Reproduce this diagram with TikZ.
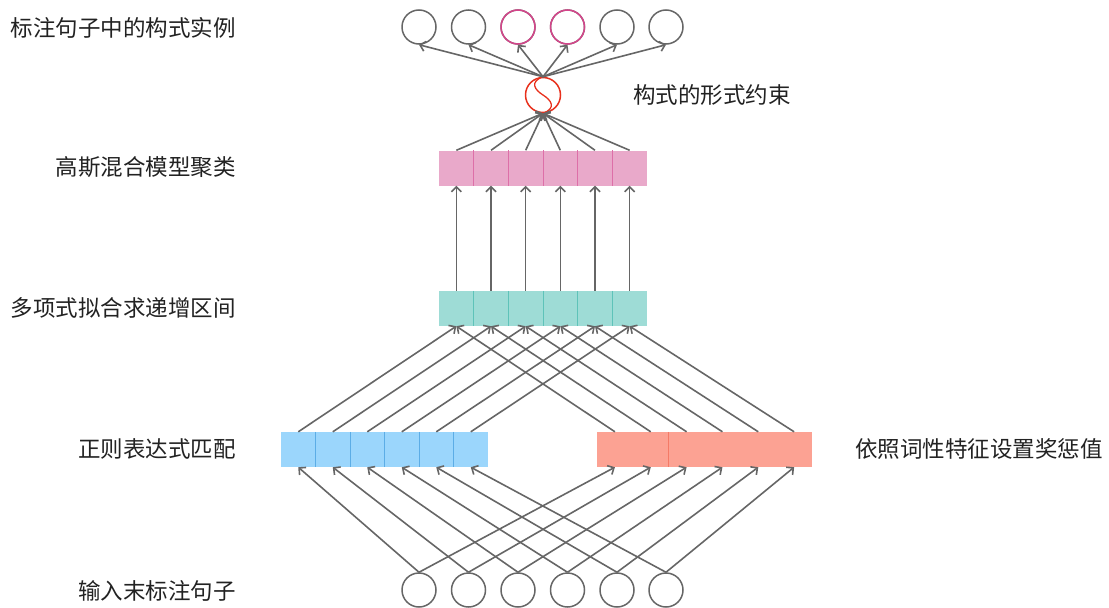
\documentclass[tikz,border=0pt]{standalone}
\usepackage{fontspec}
\newfontfamily\cjk{Noto Sans CJK SC}
\usetikzlibrary{arrows.meta,calc}
\definecolor{lineG}{HTML}{666666}
\definecolor{pinkF}{HTML}{E9A9CA}
\definecolor{pinkD}{HTML}{DD6FA8}
\definecolor{tealF}{HTML}{9EDCD6}
\definecolor{tealD}{HTML}{5EC3B9}
\definecolor{blueF}{HTML}{9BD6FC}
\definecolor{blueD}{HTML}{5CADE6}
\definecolor{salF}{HTML}{FCA293}
\definecolor{salD}{HTML}{F47A66}
\definecolor{magC}{HTML}{D4458A}
\definecolor{sigC}{HTML}{E8301C}
\definecolor{txtC}{HTML}{222222}
\tikzset{
  circnode/.style={circle, draw=lineG, line width=1.5pt, minimum size=34pt, inner sep=0pt},
  cellnode/.style={rectangle, draw=none, minimum width=34.667pt, minimum height=35pt, inner sep=0pt},
  salcell/.style={rectangle, draw=none, fill=salF, minimum width=35.84pt, minimum height=35pt, inner sep=0pt},
  conn/.style={draw=lineG, line width=1.6pt, -{Straight Barb[length=5pt,width=10pt]}},
  divider/.style={line width=1.2pt},
  lbl/.style={font=\cjk\fontsize{22.5}{27}\selectfont, text=txtC, inner sep=0pt}
}
\begin{document}
\begin{tikzpicture}[x=1pt,y=-1pt]
\useasboundingbox (0,0) rectangle (1109,608);
% top circles
\foreach \i/\xx in {1/419,2/468.5,3/518,4/567.5,5/617,6/666} {
  \node[circnode] (t\i) at (\xx,27) {};
}
\node[circnode, draw=magC] at (t3) {};
\node[circnode, draw=magC] at (t4) {};
% sigma node
\node[circle, draw=sigC, line width=1.5pt, minimum size=35pt, inner sep=0pt] (sg) at (543,95) {};
\draw[sigC, line width=1.3pt] (sg.north) .. controls ($(sg.center)+(-14,-13)$) and ($(sg.center)+(-8,-5)$) .. (sg.center)
   .. controls ($(sg.center)+(8,5)$) and ($(sg.center)+(14,13)$) .. (sg.south);
% bars
\foreach \i in {1,...,6} {
  \node[cellnode, fill=pinkF] (p\i) at ({439+34.667*(\i-0.5)},168) {};
  \node[cellnode, fill=tealF] (q\i) at ({439+34.667*(\i-0.5)},308.5) {};
  \node[cellnode, fill=blueF] (r\i) at ({281+34.5*(\i-0.5)},449.5) {};
  \node[salcell] (s\i) at ({597+35.84*(\i-0.5)},449.5) {};
}
\foreach \i in {1,...,5} {
  \draw[divider, pinkD] (p\i.north east) -- (p\i.south east);
  \draw[divider, tealD] (q\i.north east) -- (q\i.south east);
  \draw[divider, blueD] (r\i.north east) -- (r\i.south east);
}
\draw[divider, salD] (s2.north east) -- (s2.south east);
% bottom circles
\foreach \i/\xx in {1/419,2/468.5,3/518,4/567.5,5/617,6/666} {
  \node[circnode] (b\i) at (\xx,590) {};
}
% connectors
\foreach \i in {1,...,6} {
  \draw[conn] (sg.north) -- (t\i.south);
  \draw[conn] (p\i.north) -- (sg.south);
  \draw[conn] (q\i.north) -- (p\i.south);
  \draw[conn] (r\i.north) -- (q\i.south);
  \draw[conn] (s\i.north) -- (q\i.south);
  \draw[conn] (b\i.north) -- (r\i.south);
  \draw[conn] (b\i.north) -- (s\i.south);
}
% labels
\node[lbl, anchor=east] (l1) at (236,28) {标注句子中的构式实例};
\node[lbl, anchor=east] (l2) at (236,167) {高斯混合模型聚类};
\node[lbl, anchor=east] (l3) at (236,308) {多项式拟合求递增区间};
\node[lbl, anchor=east] (l4) at (236,449) {正则表达式匹配};
\node[lbl, anchor=east] (l5) at (236,591) {输入末标注句子};
\node[lbl, anchor=west] (r1) at (633,95) {构式的形式约束};
\node[lbl, anchor=west] (r2) at (855,449) {依照词性特征设置奖惩值};
\end{tikzpicture}
\end{document}
